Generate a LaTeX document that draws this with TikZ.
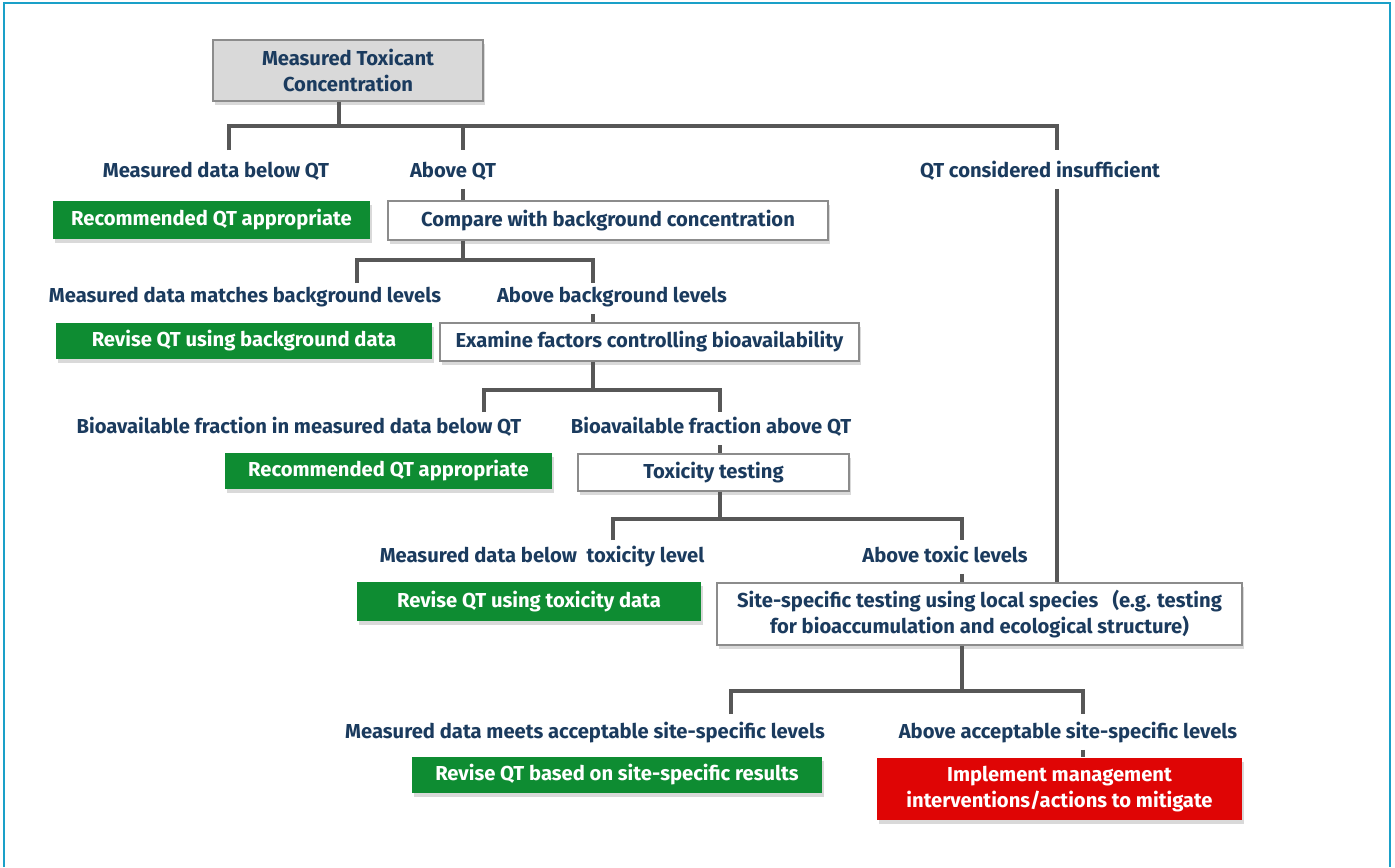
\documentclass[tikz,border=0pt]{standalone}
\usepackage{fontspec}
\setmainfont{Fira Sans}
\usetikzlibrary{shadows}
\definecolor{navy}{HTML}{1B3B5E}
\definecolor{okgreen}{HTML}{0E8C32}
\definecolor{stopred}{HTML}{DF0505}
\definecolor{linkgray}{HTML}{575757}
\definecolor{boxgray}{HTML}{8C8C8C}
\definecolor{topgray}{HTML}{D9D9D9}
\definecolor{framecol}{HTML}{1AA0C8}
\begin{document}
\begin{tikzpicture}[x=1cm,y=1cm,line join=miter]
  \tikzstyle{box}=[draw=boxgray, line width=0.8pt, fill=white, align=center, text=navy,
    font=\fontsize{11.5}{14.3}\selectfont\bfseries,
    drop shadow={shadow xshift=0.03cm, shadow yshift=-0.08cm, opacity=0.3}]
  \tikzstyle{okbox}=[box, draw=none, fill=okgreen, text=white]
  \tikzstyle{stopbox}=[box, draw=none, fill=stopred, text=white]
  \tikzstyle{cond}=[text=navy, font=\fontsize{11.5}{14.3}\selectfont\bfseries, inner sep=0pt,
    text height=1.5ex, text depth=.35ex, minimum height=0.66cm]
  \tikzstyle{link}=[draw=linkgray, line width=2.8pt]

  \useasboundingbox (0,0) rectangle (27.9,-17.34);
  \draw[framecol, line width=1.2pt] (0.08,-17.34) |- (27.8,-0.06) -- (27.8,-17.34);

  \node[box, fill=topgray, minimum width=5.4cm, minimum height=1.22cm] (top) at (6.96,-1.41) {Measured Toxicant\\Concentration};

  \node[cond] (lab1a) at (4.32,-3.44) {Measured data below QT};
  \node[cond] (lab1b) at (9.06,-3.44) {Above QT};
  \node[cond] (lab1c) at (20.80,-3.44) {QT considered insufficient};
  \node[okbox, minimum width=6.34cm, minimum height=0.76cm] (rec1) at (4.23,-4.40) {Recommended QT appropriate};
  \node[box, minimum width=8.8cm, minimum height=0.78cm] (cmp) at (12.16,-4.41) {Compare with background concentration};

  \node[cond] (lab2a) at (4.90,-5.95) {Measured data matches background levels};
  \node[cond] (lab2b) at (12.24,-5.95) {Above background levels};
  \node[okbox, minimum width=7.52cm, minimum height=0.72cm] (rev1) at (4.88,-6.82) {Revise QT using background data};
  \node[box, minimum width=8.38cm, minimum height=0.76cm] (exa) at (12.99,-6.84) {Examine factors controlling bioavailability};

  \node[cond] (lab3a) at (5.98,-8.57) {Bioavailable fraction in measured data below QT};
  \node[cond] (lab3b) at (14.22,-8.57) {Bioavailable fraction above QT};
  \node[okbox, minimum width=6.54cm, minimum height=0.72cm] (rec2) at (7.77,-9.42) {Recommended QT appropriate};
  \node[box, minimum width=5.42cm, minimum height=0.74cm] (tox) at (14.27,-9.45) {Toxicity testing};

  \node[cond] (lab4a) at (10.84,-11.14) {Measured data below \ toxicity level};
  \node[cond] (lab4b) at (18.90,-11.14) {Above toxic levels};
  \node[okbox, minimum width=6.88cm, minimum height=0.78cm] (rev2) at (10.58,-12.03) {Revise QT using toxicity data};
  \node[box, minimum width=10.5cm, minimum height=1.24cm] (site) at (19.59,-12.28) {Site-specific testing using local species \ \ (e.g. testing\\for bioaccumulation and ecological structure)};

  \node[cond] (lab5a) at (11.70,-14.66) {Measured data meets acceptable site-specific levels};
  \node[cond] (lab5b) at (21.36,-14.66) {Above acceptable site-specific levels};
  \node[okbox, minimum width=8.2cm, minimum height=0.72cm] (rev3) at (12.34,-15.50) {Revise QT based on site-specific results};
  \node[stopbox, minimum width=7.3cm, minimum height=1.24cm] (act) at (21.19,-15.78) {Implement management\\interventions/actions to mitigate};

  \coordinate (j1) at (6.78,-2.52);
  \coordinate (d1a) at (4.58,-3.0);
  \coordinate (d1b) at (9.26,-3.0);
  \coordinate (d1c) at (21.14,-3.0);
  \draw[link] (top.south -| j1) -- (j1);
  \draw[link] (d1a) |- (j1) -| (d1c);
  \draw[link] (j1) -| (d1b);
  \draw[link] (lab1b.south -| d1b) -- (cmp.north -| d1b);
  \draw[link] (lab1c.south -| d1c) -- (site.north -| d1c);

  \coordinate (j2) at (9.26,-5.20);
  \coordinate (d2a) at (7.14,-5.66);
  \coordinate (d2b) at (11.86,-5.66);
  \draw[link] (cmp.south -| j2) -- (j2);
  \draw[link] (d2a) |- (j2) -| (d2b);
  \draw[link] (lab2b.south -| d2b) -- (exa.north -| d2b);

  \coordinate (j3) at (11.86,-7.80);
  \coordinate (d3a) at (9.68,-8.24);
  \coordinate (d3b) at (14.40,-8.24);
  \draw[link] (exa.south -| j3) -- (j3);
  \draw[link] (d3a) |- (j3) -| (d3b);
  \draw[link] (lab3b.south -| d3b) -- (tox.north -| d3b);

  \coordinate (j4) at (14.40,-10.38);
  \coordinate (d4a) at (12.26,-10.80);
  \coordinate (d4b) at (19.24,-10.80);
  \draw[link] (tox.south -| j4) -- (j4);
  \draw[link] (d4a) |- (j4) -| (d4b);
  \draw[link] (lab4b.south -| d4b) -- (site.north -| d4b);

  \coordinate (j5) at (19.24,-13.82);
  \coordinate (d5a) at (14.62,-14.28);
  \coordinate (d5b) at (21.66,-14.28);
  \draw[link] (site.south -| j5) -- (j5);
  \draw[link] (d5a) |- (j5) -| (d5b);
  \draw[link] (lab5b.south -| d5b) -- (act.north -| d5b);
\end{tikzpicture}
\end{document}
